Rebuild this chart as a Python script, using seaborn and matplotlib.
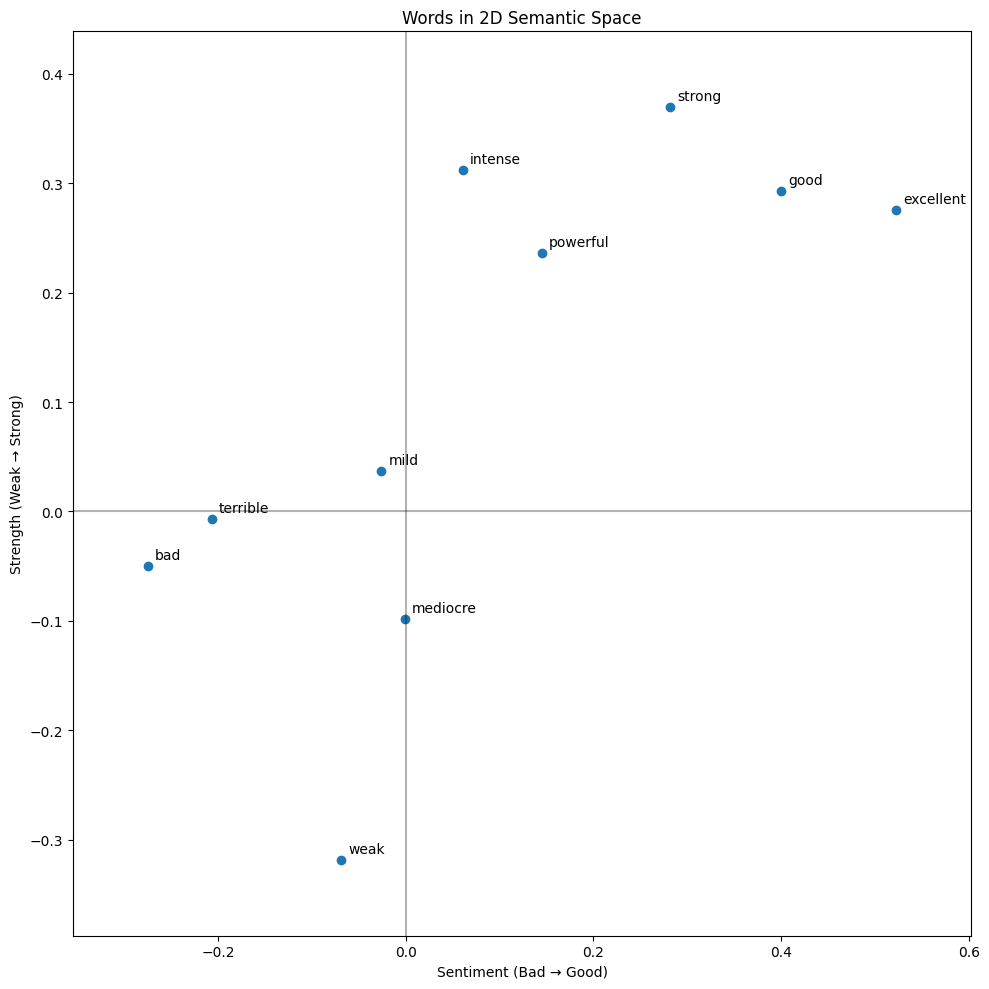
import pandas as pd
import matplotlib
matplotlib.use('Agg')
import matplotlib.pyplot as plt
import seaborn as sns

# ── Word coordinates ──────────────────────────────────────────────
words     = ['strong', 'intense', 'good', 'excellent', 'powerful',
             'mild', 'terrible', 'bad', 'mediocre', 'weak']
sentiment = [0.282, 0.061, 0.400, 0.523, 0.145,
             -0.026, -0.207, -0.275, -0.001, -0.069]
strength  = [0.370, 0.312, 0.293, 0.276, 0.236,
             0.037, -0.007, -0.050, -0.098, -0.319]

df = pd.DataFrame({'word': words, 'x': sentiment, 'y': strength})

# ── Plot ──────────────────────────────────────────────────────────
fig, ax = plt.subplots(figsize=(10, 10), dpi=100)

sns.scatterplot(data=df, x='x', y='y', ax=ax, s=36,
                color='#1f77b4', edgecolor='#1f77b4', linewidth=1)

for _, r in df.iterrows():
    ax.annotate(r['word'], (r['x'], r['y']), xytext=(5, 5),
                textcoords='offset points', fontsize=10)

ax.axhline(0, color='black', alpha=0.3, linewidth=1.5)
ax.axvline(0, color='black', alpha=0.3, linewidth=1.5)
ax.margins(0.1)

ax.set_title('Words in 2D Semantic Space')
ax.set_xlabel('Sentiment (Bad → Good)')
ax.set_ylabel('Strength (Weak → Strong)')

plt.tight_layout()
plt.savefig('out.png', dpi=100, bbox_inches='tight')
plt.close()
